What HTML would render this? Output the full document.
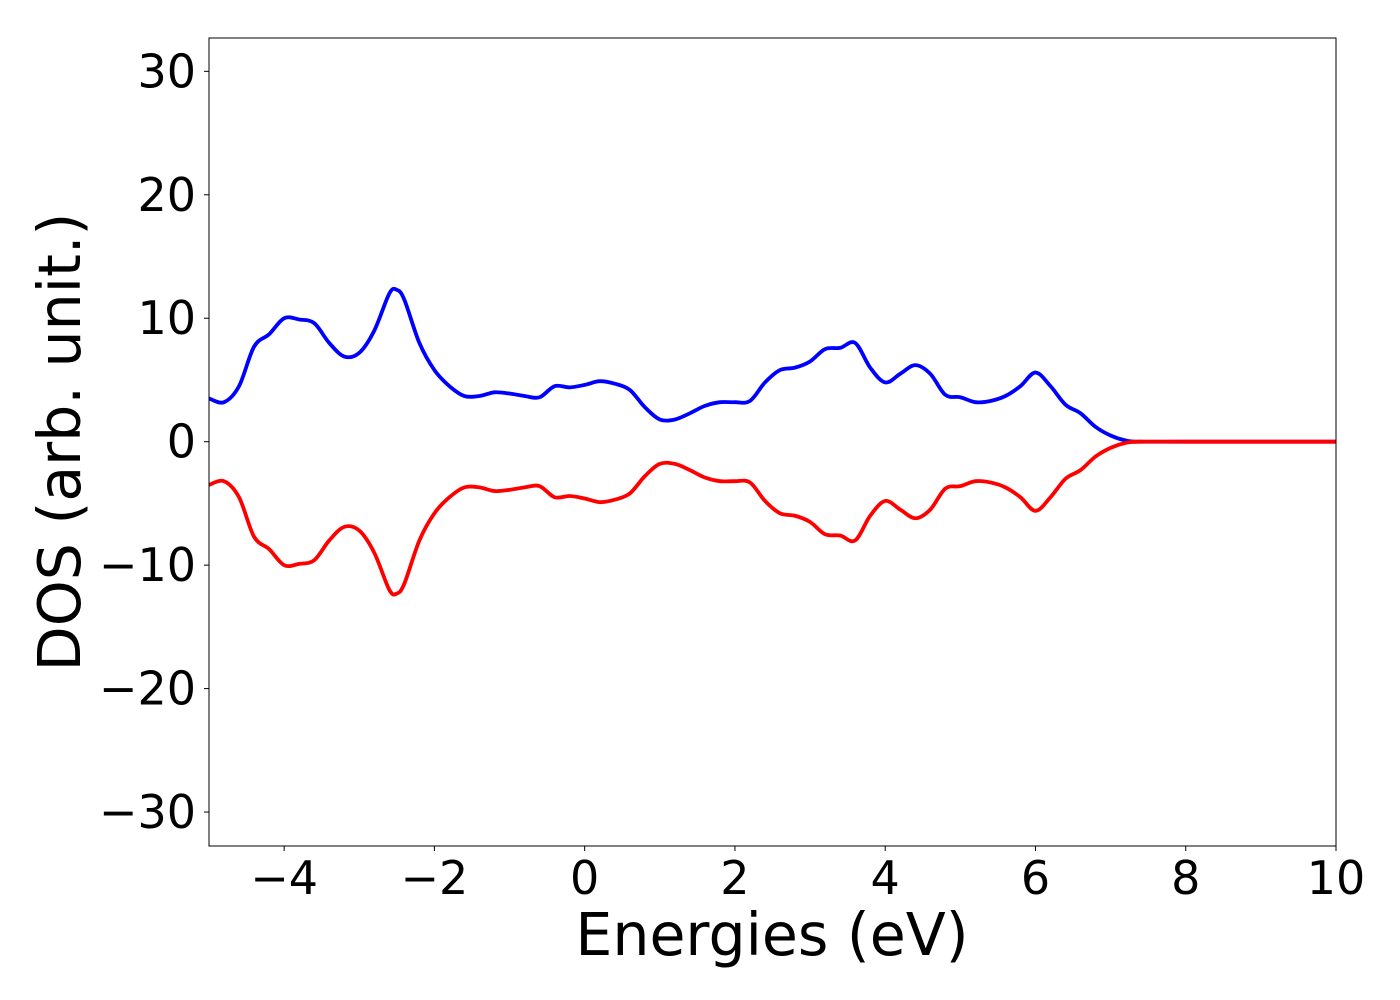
<!DOCTYPE html>
<html><head><meta charset="utf-8"><style>
html,body{margin:0;padding:0;background:#fff;}
svg{display:block;}
text{font-family:"DejaVu Sans","Liberation Sans",sans-serif;fill:#000;}
</style></head><body>
<svg id="chart" width="1400" height="1000" viewBox="0 0 1400 1000" xmlns="http://www.w3.org/2000/svg">
<g id="plot"></g>
</svg>
<script>
const energies = [-5,-4.8,-4.6,-4.4,-4.2,-4.0,-3.8,-3.6,-3.4,-3.2,-3.0,-2.8,-2.6,-2.5,-2.4,-2.2,-2.0,-1.8,-1.6,-1.4,-1.2,-1.0,-0.8,-0.6,-0.4,-0.2,0.0,0.2,0.4,0.6,0.8,1.0,1.2,1.4,1.6,1.8,2.0,2.2,2.4,2.6,2.8,3.0,3.2,3.4,3.6,3.8,4.0,4.2,4.4,4.6,4.8,5.0,5.2,5.4,5.6,5.8,6.0,6.2,6.4,6.6,6.8,7.0,7.2,7.4,8,9,10];
const dosUp = [3.5,3.2,4.5,7.7,8.7,10.0,9.9,9.6,8.0,6.9,7.2,9.0,12.0,12.3,11.5,8.0,5.8,4.5,3.7,3.7,4.0,3.9,3.7,3.6,4.5,4.4,4.6,4.9,4.7,4.2,2.8,1.8,1.8,2.3,2.9,3.2,3.2,3.3,4.8,5.8,6.0,6.5,7.5,7.6,8.0,6.0,4.8,5.5,6.2,5.5,3.8,3.6,3.2,3.3,3.7,4.5,5.6,4.5,3.0,2.3,1.2,0.5,0.1,0,0,0,0];
const dosDown = dosUp.map(v => -v);
const xTicks = [-4,-2,0,2,4,6,8,10];
const yTicks = [-30,-20,-10,0,10,20,30];
const xMin=-5,xMax=10,yMin=-32.75,yMax=32.7;
const L=209,R=1336,T=38,B=846;
const sx=v=>L+(v-xMin)/(xMax-xMin)*(R-L);
const sy=v=>B-(v-yMin)/(yMax-yMin)*(B-T);
const NS="http://www.w3.org/2000/svg";
const svg=document.getElementById('chart');
const g=document.getElementById('plot');
function mk(tag,attrs,parent){const e=document.createElementNS(NS,tag);for(const k in attrs)e.setAttribute(k,attrs[k]);(parent||svg).appendChild(e);return e;}
function pathFor(xs,ys){
  const p=xs.map((x,i)=>[sx(x),sy(ys[i])]);
  let d=`M${p[0][0]},${p[0][1]}`;
  for(let i=0;i<p.length-1;i++){
    const p0=p[i-1]||p[i],p1=p[i],p2=p[i+1],p3=p[i+2]||p2;
    const c1=[p1[0]+(p2[0]-p0[0])/6,p1[1]+(p2[1]-p0[1])/6];
    const c2=[p2[0]-(p3[0]-p1[0])/6,p2[1]-(p3[1]-p1[1])/6];
    d+=` C${c1[0]},${c1[1]} ${c2[0]},${c2[1]} ${p2[0]},${p2[1]}`;
  }
  return d;
}
const clip=mk('clipPath',{id:'c'});mk('rect',{x:L,y:T,width:R-L,height:B-T},clip);
const up=mk('path',{d:pathFor(energies,dosUp),fill:'none',stroke:'#0000ff','stroke-width':3.8,'clip-path':'url(#c)'},g);


const dn=mk('path',{d:pathFor(energies,dosDown),fill:'none',stroke:'#ff0000','stroke-width':3.8,'clip-path':'url(#c)'},g);


const frame=mk('rect',{x:L,y:T,width:R-L,height:B-T,fill:'none',stroke:'#000','stroke-width':1});


xTicks.forEach(t=>{
  mk('line',{x1:sx(t),x2:sx(t),y1:B,y2:B+5,stroke:'#000'});
  const tx=mk('text',{x:sx(t),y:B+48,'font-size':46,'text-anchor':'middle'});
  tx.textContent=(t<0?'\u2212'+(-t):t);
  
  
});
yTicks.forEach(t=>{
  mk('line',{x1:L-5,x2:L,y1:sy(t),y2:sy(t),stroke:'#000'});
  const tx=mk('text',{x:L-13,y:sy(t)+16,'font-size':46,'text-anchor':'end'});
  tx.textContent=(t<0?'\u2212'+(-t):t);
  
  
});
const xl=mk('text',{x:772,y:955,'font-size':58.5,'text-anchor':'middle'});
xl.textContent='Energies (eV)';


const yl=mk('text',{x:0,y:0,'font-size':58.5,'text-anchor':'middle',transform:`translate(80,442) rotate(-90)`});
yl.textContent='DOS (arb. unit.)';


</script>
</body></html>
